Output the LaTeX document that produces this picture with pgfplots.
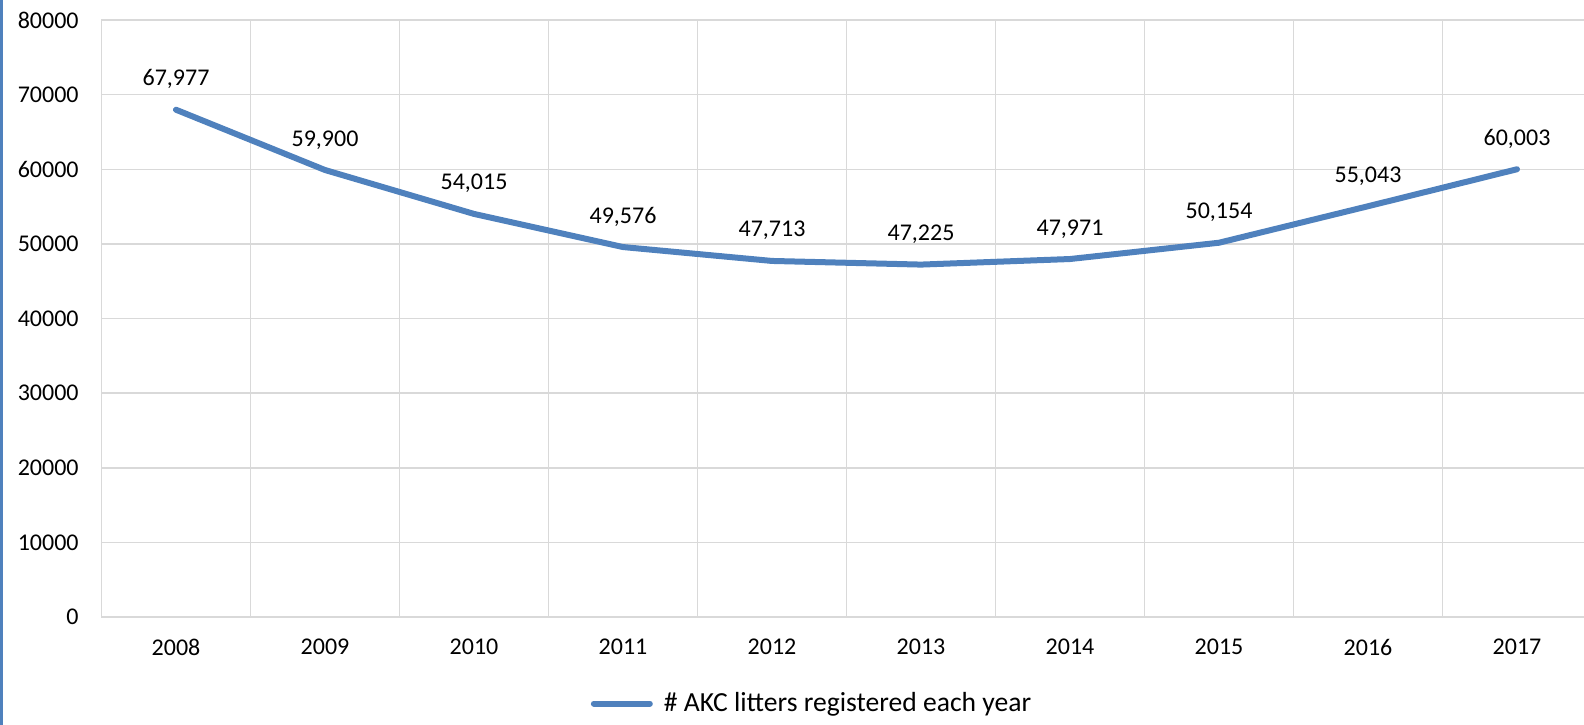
\documentclass[border=0pt]{standalone}
\usepackage{fontspec}
\setmainfont{Carlito}
\usepackage{pgfplots}
\pgfplotsset{compat=1.18}
\definecolor{lineblue}{HTML}{4F81BD}
\definecolor{gridgray}{HTML}{D9D9D9}
\begin{document}
\fontsize{12bp}{14bp}\selectfont
\begin{tikzpicture}
\useasboundingbox (0,0) rectangle (792bp,362.5bp);
\fill[lineblue] (0,0) rectangle (1.5bp,362.5bp);
\begin{axis}[
 at={(50.75bp,54bp)}, anchor=south west,
 scale only axis, width=745bp, height=298.5bp,
 xmin=-0.5, xmax=9.5, ymin=0, ymax=80000,
 xtick={0,1,2,3,4,5,6,7,8,9},
 xticklabels={2008,2009,2010,2011,2012,2013,2014,2015,2016,2017},
 minor xtick={-0.5,0.5,1.5,2.5,3.5,4.5,5.5,6.5,7.5,8.5,9.5},
 ytick={0,10000,20000,30000,40000,50000,60000,70000,80000},
 ymajorgrids, xminorgrids,
 grid style={gridgray, line width=0.75bp},
 minor grid style={gridgray, line width=0.75bp},
 axis line style={gridgray, line width=0.75bp},
 major tick length=0pt, minor tick length=0pt,
 tick style={draw=none},
 scaled y ticks=false,
 /pgf/number format/assume math mode=true,
 yticklabel style={/pgf/number format/1000 sep={}, anchor=east, inner sep=0pt, xshift=-11.25bp},
 xticklabel style={anchor=north, inner sep=0pt, yshift=-11bp},
 legend style={at={(0.4775,-0.145)}, anchor=center, draw=none, fill=none, inner sep=0pt,
   font=\fontsize{13.8bp}{16bp}\selectfont},
 legend image code/.code={\draw[line width=3bp, lineblue, line cap=round] (0bp,0bp) -- (28bp,0bp);},
 clip=false,
]
\addplot[lineblue, line width=3bp, line cap=round, line join=round, mark=none,
  nodes near coords={\pgfmathprintnumber[fixed, precision=0, 1000 sep={,}, assume math mode=true]{\pgfplotspointmeta}},
  nodes near coords style={anchor=base, inner sep=0pt, yshift=12bp, text=black},
  point meta=explicit]
 coordinates {
 (0,67977) [67977]
 (1,59900) [59900]
 (2,54015) [54015]
 (3,49576) [49576]
 (4,47713) [47713]
 (5,47225) [47225]
 (6,47971) [47971]
 (7,50154) [50154]
 (8,55043) [55043]
 (9,60003) [60003]
 };
\addlegendentry{\hspace{3.5bp}\# AKC litters registered each year}
\end{axis}
\end{tikzpicture}
\end{document}
